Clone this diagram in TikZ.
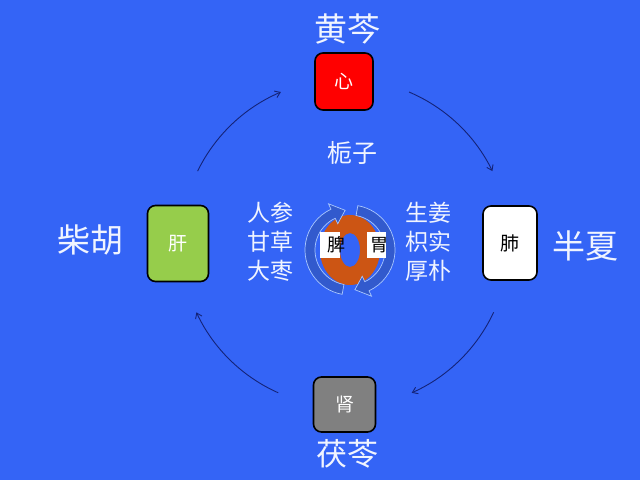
\documentclass[tikz,border=0pt]{standalone}
\usepackage{fontspec}
\newfontfamily\cjk{Noto Sans CJK SC}
\usetikzlibrary{arrows.meta}
\definecolor{bg}{RGB}{52,100,246}
\definecolor{navy}{RGB}{20,35,120}
\definecolor{txt}{RGB}{240,244,255}
\definecolor{leaf}{RGB}{150,205,75}
\definecolor{rust}{RGB}{204,85,20}
\definecolor{arrfill}{RGB}{50,90,205}
\definecolor{arrline}{RGB}{170,200,255}
\tikzset{
  organ/.style={draw=black,line width=1.6pt,rounded corners=8pt,inner sep=0pt,font=\cjk\fontsize{19}{19}\selectfont},
  herb/.style={text=txt,inner sep=0pt,font=\cjk\fontsize{33}{33}\selectfont},
  mid/.style={text=txt,inner sep=0pt,align=center,font=\cjk\fontsize{23}{29}\selectfont},
  cyc/.style={draw=navy,line width=0.9pt,-{Straight Barb[length=5pt,width=7pt]}},
  blockarr/.style={fill=arrfill,draw=arrline,line width=0.7pt},
  tag/.style={fill=white,inner sep=0pt,minimum width=20pt,minimum height=26pt}
}
\begin{document}
\begin{tikzpicture}[x=1pt,y=1pt]
\useasboundingbox (0,0) rectangle (640,480);
\fill[bg] (0,0) rectangle (640,480);
% organs
\node[organ,fill=red,text=white,minimum width=58pt,minimum height=57pt] (xin) at (344,398.5) {心};
\node[organ,fill=leaf,text=white,minimum width=61pt,minimum height=76pt] (gan) at (178,236.5) {肝};
\node[organ,fill=white,text=black,minimum width=54pt,minimum height=74pt] (fei) at (510,237) {肺};
\node[organ,fill=gray,text=white,minimum width=62pt,minimum height=55pt] (shen) at (344.5,75.5) {肾};
% herbs
\node[herb] (hq) at (347.5,451) {黄芩};
\node[herb] (ch) at (90,240) {柴胡};
\node[herb] (bx) at (585,234) {半夏};
\node[herb,font=\cjk\fontsize{31}{31}\selectfont] (fl) at (347.5,26) {茯苓};
\node[mid,font=\cjk\fontsize{25}{25}\selectfont] (zz) at (352,327) {栀子};
\node[mid] (lcol) at (270,238) {人参\\甘草\\大枣};
\node[mid] (rcol) at (428.5,238) {生姜\\枳实\\厚朴};
% outer cycle arcs
\coordinate (o) at (345,237);
\draw[cyc] ([shift={(154:164)}]o) arc[start angle=154,end angle=113,radius=164];
\draw[cyc] ([shift={(67:164)}]o) arc[start angle=67,end angle=26,radius=164];
\draw[cyc] ([shift={(-25:164)}]o) arc[start angle=-25,end angle=-66,radius=164];
\draw[cyc] ([shift={(-114:164)}]o) arc[start angle=-114,end angle=-155,radius=164];
% center ring
\coordinate (c) at (350,230);
\fill[rust,even odd rule] (c) ellipse[x radius=30,y radius=35] (c) ellipse[x radius=10,y radius=17];
% circular block arrows
\filldraw[blockarr] ([shift={(260:45)}]c) arc[start angle=260,end angle=115,radius=45]
  -- ([shift={(115:51)}]c) -- ([shift={(97:40)}]c) -- ([shift={(115:29)}]c)
  -- ([shift={(115:35)}]c) arc[start angle=115,end angle=260,radius=35] -- cycle;
\filldraw[blockarr] ([shift={(80:45)}]c) arc[start angle=80,end angle=-65,radius=45]
  -- ([shift={(-65:51)}]c) -- ([shift={(-83:40)}]c) -- ([shift={(-65:29)}]c)
  -- ([shift={(-65:35)}]c) arc[start angle=-65,end angle=80,radius=35] -- cycle;
% spleen / stomach tags
\node[tag] (pibox) at (330,235) {};
\node[tag,minimum width=19pt] (weibox) at (376.5,235) {};
\node[inner sep=0pt,font=\cjk\fontsize{18}{18}\selectfont] (pi) at (336,235) {脾};
\node[inner sep=0pt,font=\cjk\fontsize{18}{18}\selectfont] (wei) at (379,235) {胃};
\end{tikzpicture}
\end{document}
